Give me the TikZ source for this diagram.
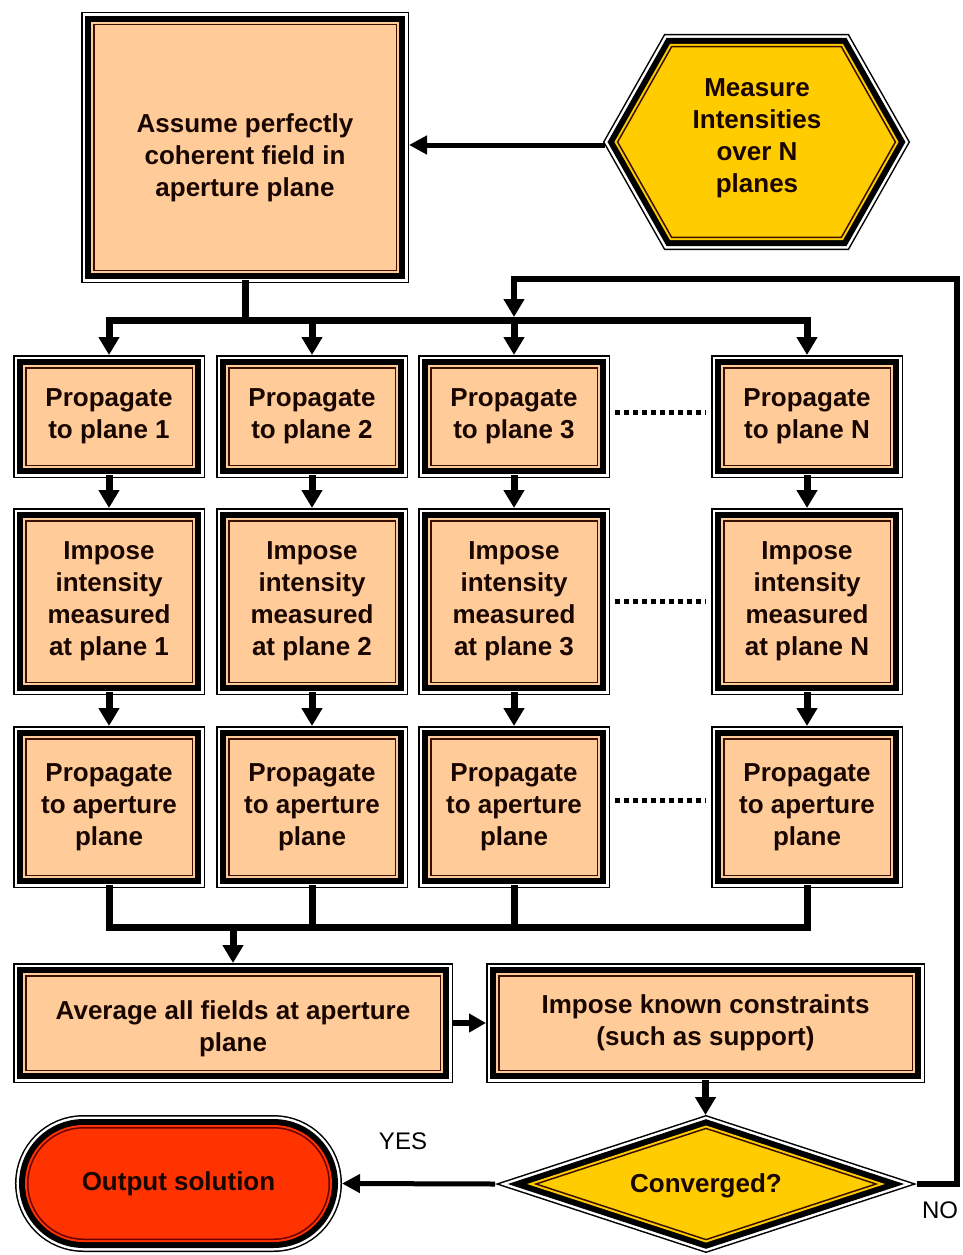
\documentclass[tikz,border=0pt]{standalone}
\usepackage{fontspec}
\setmainfont{Liberation Sans}
\usetikzlibrary{arrows.meta,shapes.misc}
\definecolor{peach}{HTML}{FFCC99}
\definecolor{gold}{HTML}{FFCC00}
\definecolor{redfill}{HTML}{FF3300}
\definecolor{brn}{HTML}{3A1000}
\definecolor{dred}{HTML}{6A0000}
\definecolor{txt}{HTML}{1A0600}
\tikzset{
  layers/.style={line join=miter,
    preaction={draw=black,line width=25.5pt},
    preaction={draw=white,line width=22.5pt},
    preaction={draw=black,line width=17.5pt},
    preaction={draw=#1,line width=5.5pt},
    fill=#1},
  tb/.style={inner sep=0pt, outer sep=12.75pt, align=center, text=txt,
    font=\fontsize{26}{32}\selectfont\bfseries},
  pbox/.style={tb, shape=rectangle, layers=peach, draw=brn, line width=1.5pt},
  obox/.style={tb, shape=rounded rectangle, layers=redfill, draw=dred, line width=1.5pt},
  shapetext/.style={inner sep=0pt, align=center, text=txt,
    font=\fontsize{26}{32}\selectfont\bfseries},
  lbl/.style={inner sep=0pt, text=black, font=\fontsize{24}{28}\selectfont},
  conn/.style={line width=7pt, line cap=rect, -{Triangle[width=20pt,length=18pt]}},
  busline/.style={line width=7pt, line cap=rect, line join=miter},
  thinconn/.style={line width=5pt, -{Triangle[width=18pt,length=18pt]}},
  dotline/.style={line width=5pt, dash pattern=on 5pt off 4pt, shorten <=5pt, shorten >=5pt},
}
\newcommand{\lowered}[2]{\raisebox{-#1}[\height][\depth]{\begin{tabular}{@{}c@{}}#2\end{tabular}}}
\begin{document}
\begin{tikzpicture}[x=1pt,y=-1pt]
\useasboundingbox (0,0) rectangle (963,1255);
\fill[white] (0,0) rectangle (963,1255);

% top box
\node[pbox,minimum width=302.5pt,minimum height=245.5pt] (A) at (245,147.5) {\lowered{11pt}{Assume perfectly\\coherent field in\\aperture plane}};

% hexagon
\path[layers=gold, draw=brn, line width=1.5pt]
  (617.6,142) -- (671.6,46.75) -- (841.4,46.75) -- (895.4,142) -- (841.4,237.25) -- (671.6,237.25) -- cycle;
\coordinate (hexL) at (605,145);
\node[shapetext] (meas) at (757,138) {Measure\\Intensities\\over N\\planes};

% row 1
\foreach \n/\x/\t in {p1/109/1, p2/312/2, p3/514/3, p4/807/N}
  \node[pbox,minimum width=166.5pt,minimum height=97.5pt] (\n) at (\x,416.5) {Propagate\\to plane \t};
% row 2
\foreach \n/\x/\t in {i1/109/1, i2/312/2, i3/514/3, i4/807/N}
  \node[pbox,minimum width=166.5pt,minimum height=161.5pt] (\n) at (\x,601.5) {Impose\\intensity\\measured\\at plane \t};
% row 3
\foreach \n/\x in {a1/109, a2/312, a3/514, a4/807}
  \node[pbox,minimum width=166.5pt,minimum height=136.5pt] (\n) at (\x,807) {Propagate\\to aperture\\plane};

% bottom boxes
\node[pbox,minimum width=414.5pt,minimum height=94.5pt] (avg) at (233,1023) {\lowered{6pt}{Average all fields at aperture\\plane}};
\node[pbox,minimum width=413.5pt,minimum height=94.5pt] (imp) at (705.5,1023) {Impose known constraints\\(such as support)};

% diamond
\path[layers=gold, draw=brn, line width=1.5pt]
  (536,1184) -- (706,1128.4) -- (876,1184) -- (706,1239.6) -- cycle;
\coordinate (dL) at (495,1184);
\coordinate (dR) at (917,1184);
\coordinate (dT) at (706,1115);
\node[shapetext] (conv) at (706,1186) {Converged?};

% output
\node[obox,minimum width=301.5pt,minimum height=111.5pt] (out) at (178.5,1183.5) {Output solution};

% connectors
\draw[thinconn] (hexL) -- (hexL -| A.east);

\coordinate (bus) at (0,320);
\draw[busline] (A.south) -- (A.south |- bus);
\draw[busline] (p1.north |- bus) -- (p4.north |- bus);
\foreach \n in {p1,p2,p3,p4}
  \draw[conn] (\n.north |- bus) -- (\n.north);

\coordinate (loopTop) at (957,279);
\draw[line width=6pt, line join=miter, -{Triangle[width=20pt,length=18pt]}]
  (dR) -| (loopTop) -- (loopTop -| p3.north) -- ([yshift=3pt]p3.north |- bus);

\foreach \u/\v in {p1/i1,p2/i2,p3/i3,p4/i4,i1/a1,i2/a2,i3/a3,i4/a4}
  \draw[conn] (\u.south) -- (\v.north);

\draw[dotline] ([yshift=4pt]p3.east) -- ([yshift=4pt]p4.west);
\draw[dotline] (i3.east) -- (i4.west);
\draw[dotline] ([yshift=7pt]a3.east) -- ([yshift=7pt]a4.west);

\coordinate (bbus) at (0,927);
\draw[busline] (a1.south) -- (a1.south |- bbus) -- (a4.south |- bbus) -- (a4.south);
\draw[busline] (a2.south) -- (a2.south |- bbus);
\draw[busline] (a3.south) -- (a3.south |- bbus);
\draw[conn] (avg.north |- bbus) -- (avg.north);

\draw[line width=6pt, -{Triangle[width=18pt,length=17pt]}] (avg.east) -- (imp.west);
\draw[conn] (imp.south) -- (imp.south |- dT);
\draw[thinconn] (dL) -- (out.east);

\node[lbl] (yes) at (403,1141) {YES};
\node[lbl] (no) at (940,1210) {NO};
\end{tikzpicture}
\end{document}
